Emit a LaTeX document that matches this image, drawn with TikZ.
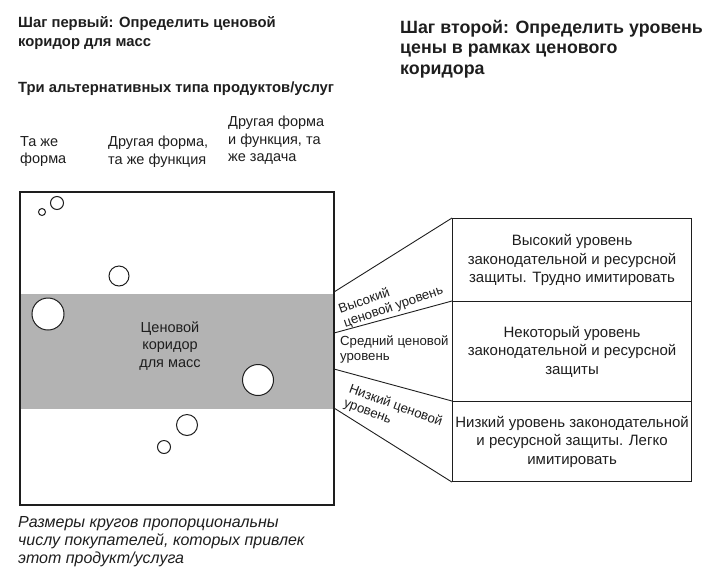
\documentclass[tikz,border=0pt]{standalone}
\usepackage{fontspec}
\setmainfont{Liberation Sans}
\usepackage{tikz}
\usetikzlibrary{positioning}
\definecolor{korid}{HTML}{B3B3B3}
\definecolor{tekst}{HTML}{1E1E1E}
\tikzset{
  zagol/.style={anchor=north west, align=left, inner sep=0pt, text=tekst,
                font=\fontsize{14.8}{19.5}\selectfont\bfseries},
  podpis/.style={anchor=north west, align=left, inner sep=0pt, text=tekst,
                 font=\fontsize{14.5}{17.5}\selectfont},
  uroven/.style={rectangle, draw=tekst, line width=1.1pt, minimum width=239pt, anchor=north west,
                 align=center, inner sep=0pt, text=tekst, font=\fontsize{15}{18.5}\selectfont},
  cena/.style={podpis, font=\fontsize{13.2}{15}\selectfont},
  krug/.style={circle, draw=tekst, fill=white, line width=1pt, inner sep=0pt, minimum size=#1},
  veer/.style={line width=0.9pt, draw=tekst},
}

\begin{document}
\begin{tikzpicture}[x=1pt,y=-1pt]
    \useasboundingbox (0,0) rectangle (727,587);
    % headings
    \node[zagol] (shag1) at (18,16) {Шаг первый: Определить ценовой\\коридор для масс};
    \node[zagol, font=\fontsize{17.8}{20.5}\selectfont\bfseries] (shag2) at (400,20)
         {Шаг второй: Определить уровень\\цены в рамках ценового\\коридора};
    \node[zagol] (tri) at (18,82) {Три альтернативных типа продуктов/услуг};
    \node[podpis] (tip1) at (20,136) {Та же\\форма};
    \node[podpis] (tip2) at (108,136) {Другая форма,\\та же функция};
    \node[podpis] (tip3) at (228,116) {Другая форма\\и функция, та\\же задача};
    % field with the corridor
    \fill[korid] (20,294) rectangle (334,409);
    \draw[line width=1.1pt, draw=tekst] (20,192) rectangle (334,505);
    \node[podpis, anchor=center, align=center] (koridor) at (170,346) {Ценовой\\коридор\\для масс};
    \node[krug=7pt] (k1) at (42,212) {};
    \node[krug=13pt] (k2) at (57,203) {};
    \node[krug=20pt] (k3) at (119,276) {};
    \node[krug=32pt] (k4) at (48,314) {};
    \node[krug=31pt] (k5) at (258,380) {};
    \node[krug=21pt] (k6) at (187,425) {};
    \node[krug=13pt] (k7) at (164,447) {};
    \node[podpis, font=\fontsize{16}{18}\selectfont\itshape] (razmer) at (18,516)
         {Размеры кругов пропорциональны\\числу покупателей, которых привлек\\этот продукт/услуга};
    % levels
    \node[uroven, minimum height=83pt] (vys) at (452,218)
         {Высокий уровень\\законодательной и ресурсной\\защиты. Трудно имитировать};
    \node[uroven, minimum height=100pt] (sred) at (452,301)
         {Некоторый уровень\\законодательной и ресурсной\\защиты};
    \node[uroven, minimum height=80pt] (niz) at (452,401)
         {Низкий уровень законодательной\\и ресурсной защиты. Легко\\имитировать};
    \coordinate (c1) at (334,292);
    \coordinate (c2) at (334,333);
    \coordinate (c3) at (334,369);
    \coordinate (c4) at (334,408);
    \draw[veer] (c1) -- (vys.north west);
    \draw[veer] (c2) -- (sred.north west);
    \draw[veer] (c3) -- (niz.north west);
    \draw[veer] (c4) -- (niz.south west);
    \node[cena, anchor=center, rotate=19] (lvys) at (391,300) {Высокий\\ценовой уровень};
    \node[cena, anchor=west] (lsred) at (340,349) {Средний ценовой\\уровень};
    \node[cena, anchor=center, rotate=-20] (lniz) at (393,413) {Низкий ценовой\\уровень};
  \end{tikzpicture}
\end{document}
